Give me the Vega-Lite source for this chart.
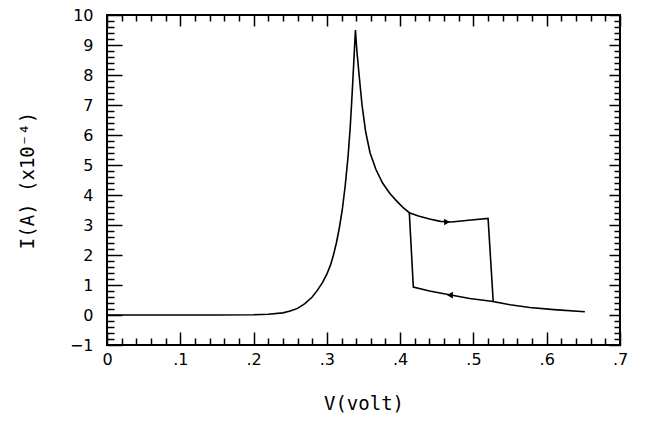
{
  "$schema": "https://vega.github.io/schema/vega-lite/v6.json",
  "width": 513,
  "height": 330,
  "autosize": {"type": "none"},
  "padding": {"left": 107, "top": 15, "right": 31, "bottom": 76},
  "background": "white",
  "config": {
    "view": {"stroke": "black", "strokeWidth": 2},
    "axis": {"grid": false, "domain": false, "tickColor": "black", "tickWidth": 1.5, "labelColor": "black", "titleColor": "black"}
  },
  "datasets": {
    "curve": [
      {"seg": "A", "i": 0, "v": 0, "I": 0},
      {"seg": "A", "i": 1, "v": 0.05, "I": 0},
      {"seg": "A", "i": 2, "v": 0.1, "I": 0},
      {"seg": "A", "i": 3, "v": 0.15, "I": 0},
      {"seg": "A", "i": 4, "v": 0.2, "I": 0.01},
      {"seg": "A", "i": 5, "v": 0.22, "I": 0.025},
      {"seg": "A", "i": 6, "v": 0.24, "I": 0.07},
      {"seg": "A", "i": 7, "v": 0.25, "I": 0.13},
      {"seg": "A", "i": 8, "v": 0.26, "I": 0.22},
      {"seg": "A", "i": 9, "v": 0.27, "I": 0.38},
      {"seg": "A", "i": 10, "v": 0.28, "I": 0.6},
      {"seg": "A", "i": 11, "v": 0.287, "I": 0.82},
      {"seg": "A", "i": 12, "v": 0.294, "I": 1.08},
      {"seg": "A", "i": 13, "v": 0.3, "I": 1.36},
      {"seg": "A", "i": 14, "v": 0.305, "I": 1.67},
      {"seg": "A", "i": 15, "v": 0.309, "I": 2.0},
      {"seg": "A", "i": 16, "v": 0.313, "I": 2.4},
      {"seg": "A", "i": 17, "v": 0.317, "I": 2.9},
      {"seg": "A", "i": 18, "v": 0.321, "I": 3.5},
      {"seg": "A", "i": 19, "v": 0.325, "I": 4.3},
      {"seg": "A", "i": 20, "v": 0.329, "I": 5.3},
      {"seg": "A", "i": 21, "v": 0.332, "I": 6.3},
      {"seg": "A", "i": 22, "v": 0.335, "I": 7.6},
      {"seg": "A", "i": 23, "v": 0.339, "I": 9.5},
      {"seg": "A", "i": 24, "v": 0.341, "I": 8.8},
      {"seg": "A", "i": 25, "v": 0.344, "I": 8.0},
      {"seg": "A", "i": 26, "v": 0.348, "I": 7.0},
      {"seg": "A", "i": 27, "v": 0.353, "I": 6.1},
      {"seg": "A", "i": 28, "v": 0.359, "I": 5.4},
      {"seg": "A", "i": 29, "v": 0.367, "I": 4.85},
      {"seg": "A", "i": 30, "v": 0.376, "I": 4.4},
      {"seg": "A", "i": 31, "v": 0.386, "I": 4.05},
      {"seg": "A", "i": 32, "v": 0.396, "I": 3.78},
      {"seg": "A", "i": 33, "v": 0.405, "I": 3.56},
      {"seg": "A", "i": 34, "v": 0.4125, "I": 3.41},
      {"seg": "A", "i": 35, "v": 0.425, "I": 3.3},
      {"seg": "A", "i": 36, "v": 0.44, "I": 3.2},
      {"seg": "A", "i": 37, "v": 0.455, "I": 3.12},
      {"seg": "A", "i": 38, "v": 0.47, "I": 3.1},
      {"seg": "A", "i": 39, "v": 0.49, "I": 3.15},
      {"seg": "A", "i": 40, "v": 0.52, "I": 3.22},
      {"seg": "A", "i": 41, "v": 0.527, "I": 0.45},
      {"seg": "A", "i": 42, "v": 0.55, "I": 0.34},
      {"seg": "A", "i": 43, "v": 0.577, "I": 0.25},
      {"seg": "A", "i": 44, "v": 0.61, "I": 0.18},
      {"seg": "A", "i": 45, "v": 0.652, "I": 0.11},
      {"seg": "B", "i": 0, "v": 0.527, "I": 0.45},
      {"seg": "B", "i": 1, "v": 0.495, "I": 0.55},
      {"seg": "B", "i": 2, "v": 0.4635, "I": 0.69},
      {"seg": "B", "i": 3, "v": 0.44, "I": 0.8},
      {"seg": "B", "i": 4, "v": 0.418, "I": 0.93},
      {"seg": "B", "i": 5, "v": 0.4125, "I": 3.41}
    ],
    "arrows": [
      {"dir": "right", "v": 0.464, "I": 3.1},
      {"dir": "left", "v": 0.468, "I": 0.66}
    ]
  },
  "resolve": {"axis": {"x": "independent", "y": "independent"}},
  "layer": [
    {
      "data": {"name": "curve"},
      "transform": [{"filter": "datum.seg == 'A'"}],
      "mark": {"type": "line", "color": "black", "strokeWidth": 1.6, "interpolate": "linear"},
      "encoding": {
        "x": {"field": "v", "type": "quantitative", "scale": {"domain": [0, 0.7], "nice": false, "zero": false},
          "axis": {"orient": "bottom", "values": [0, 0.1, 0.2, 0.3, 0.4, 0.5, 0.6, 0.7], "tickSize": -13,
            "labelExpr": "datum.value == 0 ? '0' : replace(format(datum.value, '.1f'), '0.', '.')",
            "labelFont": "DejaVu Sans", "labelFontSize": 16, "labelPadding": 19, "labelFlush": false,
            "title": "V(volt)", "titleFont": "DejaVu Sans Mono", "titleFontSize": 19, "titleFontWeight": "normal", "titlePadding": 27}},
        "y": {"field": "I", "type": "quantitative", "scale": {"domain": [-1, 10], "nice": false, "zero": false},
          "axis": {"orient": "left", "values": [-1, 0, 1, 2, 3, 4, 5, 6, 7, 8, 9, 10], "tickSize": -15,
            "labelFont": "DejaVu Sans", "labelFontSize": 16, "labelPadding": 29, "labelFlush": false,
            "title": "I(A)   (x10⁻⁴)", "titleFont": "DejaVu Sans Mono", "titleFontSize": 19, "titleFontWeight": "normal", "titlePadding": 32}},
        "order": {"field": "i", "type": "quantitative"}
      }
    },
    {
      "data": {"name": "curve"},
      "transform": [{"filter": "datum.seg == 'B'"}],
      "mark": {"type": "line", "color": "black", "strokeWidth": 1.6},
      "encoding": {
        "x": {"field": "v", "type": "quantitative",
          "axis": {"orient": "bottom", "values": [0.02, 0.04, 0.06, 0.08, 0.12, 0.14, 0.16, 0.18, 0.22, 0.24, 0.26, 0.28, 0.32, 0.34, 0.36, 0.38, 0.42, 0.44, 0.46, 0.48, 0.52, 0.54, 0.56, 0.58, 0.62, 0.64, 0.66, 0.68], "tickSize": -7, "labels": false, "title": null}},
        "y": {"field": "I", "type": "quantitative",
          "axis": {"orient": "left", "values": [-0.8, -0.6, -0.4, -0.2, 0.2, 0.4, 0.6, 0.8, 1.2, 1.4, 1.6, 1.8, 2.2, 2.4, 2.6, 2.8, 3.2, 3.4, 3.6, 3.8, 4.2, 4.4, 4.6, 4.8, 5.2, 5.4, 5.6, 5.8, 6.2, 6.4, 6.6, 6.8, 7.2, 7.4, 7.6, 7.8, 8.2, 8.4, 8.6, 8.8, 9.2, 9.4, 9.6, 9.8], "tickSize": -7, "labels": false, "title": null}},
        "order": {"field": "i", "type": "quantitative"}
      }
    },
    {
      "data": {"name": "arrows"},
      "transform": [{"filter": "datum.dir == 'right'"}],
      "mark": {"type": "point", "shape": "triangle-right", "filled": true, "color": "black", "size": 45, "opacity": 1},
      "encoding": {
        "x": {"field": "v", "type": "quantitative",
          "axis": {"orient": "top", "values": [0, 0.1, 0.2, 0.3, 0.4, 0.5, 0.6, 0.7], "tickSize": -11, "labels": false, "title": null}},
        "y": {"field": "I", "type": "quantitative",
          "axis": {"orient": "right", "values": [-1, 0, 1, 2, 3, 4, 5, 6, 7, 8, 9, 10], "tickSize": -11, "labels": false, "title": null}}
      }
    },
    {
      "data": {"name": "arrows"},
      "transform": [{"filter": "datum.dir == 'left'"}],
      "mark": {"type": "point", "shape": "triangle-left", "filled": true, "color": "black", "size": 45, "opacity": 1},
      "encoding": {
        "x": {"field": "v", "type": "quantitative",
          "axis": {"orient": "top", "values": [0.02, 0.04, 0.06, 0.08, 0.12, 0.14, 0.16, 0.18, 0.22, 0.24, 0.26, 0.28, 0.32, 0.34, 0.36, 0.38, 0.42, 0.44, 0.46, 0.48, 0.52, 0.54, 0.56, 0.58, 0.62, 0.64, 0.66, 0.68], "tickSize": -6, "labels": false, "title": null}},
        "y": {"field": "I", "type": "quantitative",
          "axis": {"orient": "right", "values": [-0.8, -0.6, -0.4, -0.2, 0.2, 0.4, 0.6, 0.8, 1.2, 1.4, 1.6, 1.8, 2.2, 2.4, 2.6, 2.8, 3.2, 3.4, 3.6, 3.8, 4.2, 4.4, 4.6, 4.8, 5.2, 5.4, 5.6, 5.8, 6.2, 6.4, 6.6, 6.8, 7.2, 7.4, 7.6, 7.8, 8.2, 8.4, 8.6, 8.8, 9.2, 9.4, 9.6, 9.8], "tickSize": -6, "labels": false, "title": null}}
      }
    }
  ]
}
